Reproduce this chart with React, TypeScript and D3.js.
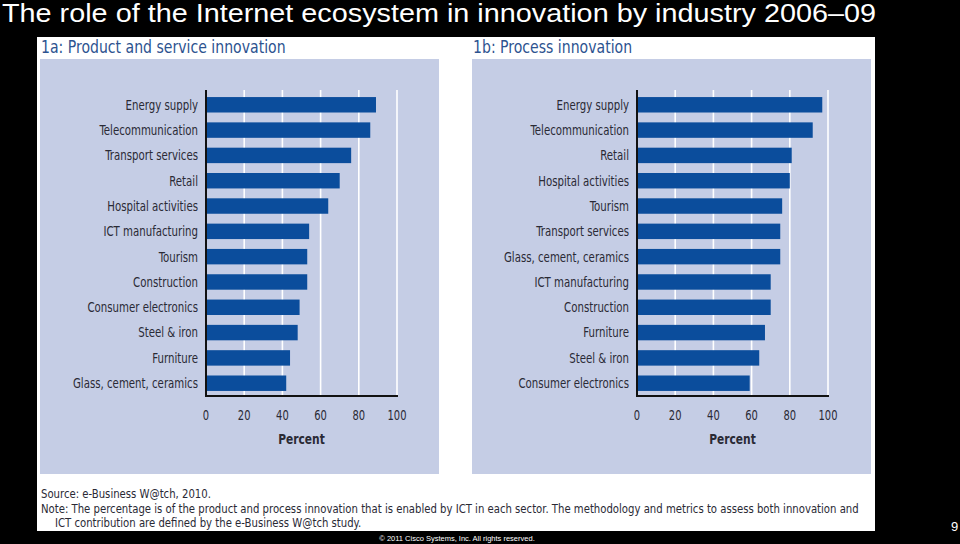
import React from "react";
import * as d3 from "d3";

const title = "The role of the Internet ecosystem in innovation by industry 2006–09";

const productCategories = [
  "Energy supply", "Telecommunication", "Transport services", "Retail",
  "Hospital activities", "ICT manufacturing", "Tourism", "Construction",
  "Consumer electronics", "Steel & iron", "Furniture", "Glass, cement, ceramics",
];
const productValues = [89, 86, 76, 70, 64, 54, 53, 53, 49, 48, 44, 42];

const processCategories = [
  "Energy supply", "Telecommunication", "Retail", "Hospital activities",
  "Tourism", "Transport services", "Glass, cement, ceramics", "ICT manufacturing",
  "Construction", "Furniture", "Steel & iron", "Consumer electronics",
];
const processValues = [97, 92, 81, 80, 76, 75, 75, 70, 70, 67, 64, 59];

const xTicks = [0, 20, 40, 60, 80, 100];

const panelTitles = ["1a: Product and service innovation", "1b: Process innovation"];
const sourceText = "Source: e-Business W@tch, 2010.";
const noteLine1 = "Note: The percentage is of the product and process innovation that is enabled by ICT in each sector. The methodology and metrics to assess both innovation and";
const noteLine2 = "ICT contribution are defined by the e-Business W@tch study.";
const copyright = "© 2011 Cisco Systems, Inc. All rights reserved.";

const COND = "'DejaVu Sans Condensed', 'Liberation Sans Narrow', sans-serif";
const BAR = "#0b4d9c";
const PANEL_BG = "#c5cde5";
const TEXT = "#2a2a35";

interface CTextProps {
  x: number;
  y: number;
  sx: number;
  size: number;
  anchor?: "start" | "middle" | "end";
  weight?: string;
  fill?: string;
  dy?: string;
  children: React.ReactNode;
}

function CText({ x, y, sx, size, anchor = "start", weight = "normal", fill = TEXT, dy, children }: CTextProps) {
  return (
    <text transform={`translate(${x},${y}) scale(${sx},1)`} textAnchor={anchor} dy={dy}
      fontFamily={COND} fontSize={size} fontWeight={weight} fill={fill}>{children}</text>
  );
}

interface PanelProps {
  x0: number;
  panelX: number;
  title: string;
  cats: string[];
  vals: number[];
}

function Panel({ x0, panelX, title: t, cats, vals }: PanelProps) {
  const x = d3.scaleLinear().domain([0, 100]).range([x0, x0 + 191]);
  const y = d3.scaleBand<string>().domain(cats).range([92, 396]).paddingInner(0.39).paddingOuter(0.2);
  return (
    <g>
      <CText x={panelX + 1} y={53} sx={0.92} size={17} fill="#2d5390">{t}</CText>
      <rect x={panelX} y={59} width={399} height={415} fill={PANEL_BG} />
      {xTicks.slice(1).map((tk) => (
        <line key={tk} x1={x(tk)} x2={x(tk)} y1={90} y2={396} stroke="#ffffff" strokeWidth={1.6} />
      ))}
      {cats.map((c, i) => (
        <g key={c}>
          <rect x={x(0)} y={y(c)!} width={x(vals[i]) - x(0)} height={y.bandwidth()} fill={BAR} />
          <CText x={x0 - 8} y={y(c)! + y.bandwidth() / 2} sx={0.84} size={13.5} dy="0.36em" anchor="end">{c}</CText>
        </g>
      ))}
      <line x1={x(0)} x2={x(0)} y1={90} y2={397} stroke="#111" strokeWidth={2} />
      <line x1={x(0) - 1} x2={x(100) + 1} y1={396} y2={396} stroke="#111" strokeWidth={2} />
      {xTicks.map((tk) => (
        <CText key={tk} x={x(tk)} y={415} sx={0.82} size={13.5} dy="0.36em" anchor="middle">{tk}</CText>
      ))}
      <CText x={(x(0) + x(100)) / 2} y={439} sx={0.82} size={14.5} dy="0.36em" anchor="middle" weight="bold">Percent</CText>
    </g>
  );
}

export default function App() {
  return (
    <div style={{ position: "fixed", left: 0, top: 0, width: 960, height: 544, background: "#000" }}>
      <svg width={960} height={544} style={{ display: "block" }}>
        <rect x={0} y={0} width={960} height={544} fill="#000" />
        <text x={2} y={22} fontFamily="'Liberation Sans', Arial, sans-serif" fontSize={25.5}
          textLength={874} lengthAdjust="spacingAndGlyphs" fill="#fff">{title}</text>
        <rect x={37} y={37} width={838} height={494} fill="#fff" />
        <Panel x0={206} panelX={40} title={panelTitles[0]} cats={productCategories} vals={productValues} />
        <Panel x0={637} panelX={472} title={panelTitles[1]} cats={processCategories} vals={processValues} />
        <CText x={41} y={498} sx={0.9} size={12.5}>{sourceText}</CText>
        <CText x={41} y={513} sx={0.9} size={12.5}>{noteLine1}</CText>
        <CText x={55} y={527} sx={0.9} size={12.5}>{noteLine2}</CText>
        <text x={457} y={541} textAnchor="middle" fontFamily="'Liberation Sans', Arial, sans-serif" fontSize={7.5} fill="#fff">{copyright}</text>
        <text x={951} y={531} fontFamily="'Liberation Sans', Arial, sans-serif" fontSize={13} fill="#fff">9</text>
      </svg>
    </div>
  );
}
